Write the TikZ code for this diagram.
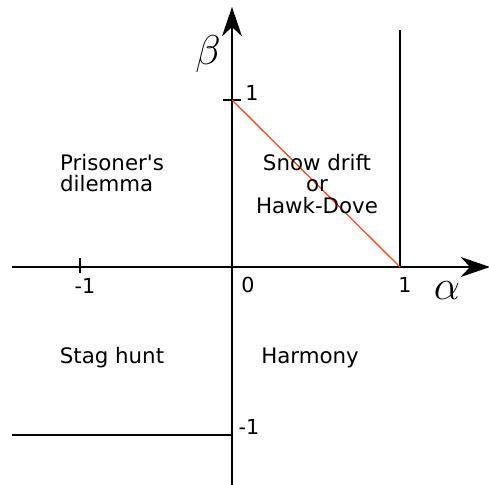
\RequirePackage{fix-cm}
\documentclass[tikz,border=0pt]{standalone}
\usepackage{fontspec}
\setmainfont{DejaVu Sans}[Ligatures=TeXOff]
\usetikzlibrary{arrows.meta,positioning}
\definecolor{axisblack}{HTML}{000000}
\definecolor{diagred}{HTML}{FF4A1C}

\begin{document}
\begin{tikzpicture}[
    x=0.75pt, y=-0.75pt,
    axis/.style={line width=1.4pt, color=axisblack},
    axisarrow/.style={axis, -{Stealth[length=22pt, width=15pt, inset=7pt]}},
    border/.style={line width=1.4pt, color=axisblack},
    diag/.style={line width=1pt, color=diagred},
    ticklabel/.style={font=\fontsize{15.5}{18}\selectfont, inner sep=1pt},
    region/.style={font=\fontsize{16}{16}\selectfont, inner sep=0pt},
    greek/.style={font=\fontsize{24}{28}\selectfont, scale=1.3, transform shape, inner sep=0pt},
]
\useasboundingbox (0,0) rectangle (489,485);

% --- Axes ---
\coordinate (xstart) at (12,267);
\coordinate (xend) at (490,267);
\coordinate (ystart) at (232,485);
\coordinate (yend) at (232,7);
\coordinate (origin) at (232,267);
\draw[axisarrow] (xstart) -- (xend);
\draw[axisarrow] (ystart) -- (yend);
\node[greek] (alpha) at (447,291) {$\alpha$};
\node[greek] (beta) at (208,54) {$\beta$};

% --- Ticks ---
\coordinate (ytickl) at (223,100);
\coordinate (ytickr) at (241,100);
\coordinate (xtickt) at (80,258);
\coordinate (xtickb) at (80,273);
\draw[axis] (ytickl) -- (ytickr);
\draw[axis] (xtickt) -- (xtickb);
\node[ticklabel] (yone) at (252,93) {1};
\node[ticklabel] (xmone) at (85,286) {-1};
\node[ticklabel] (zero) at (248,285) {0};
\node[ticklabel] (xone) at (405,285) {1};
\node[ticklabel] (ymone) at (249,427) {-1};

% --- Region borders ---
\coordinate (bordertop) at (400,30);
\coordinate (borderbot) at (400,267);
\coordinate (stagl) at (12,435);
\coordinate (stagr) at (232,435);
\draw[border] (bordertop) -- (borderbot);
\draw[border] (stagl) -- (stagr);
\coordinate (diagtop) at (232,100);
\draw[diag] (diagtop) -- (borderbot);

% --- Regions ---
\node[region, align=left] (pd) at (112,173) {Prisoner's\\dilemma};
\node[region, align=center] (snow) at (317,184) {Snow drift\\or\\Hawk-Dove};
\node[region] (stag) at (112,358) {Stag hunt};
\node[region] (harm) at (310,358) {Harmony};

\end{tikzpicture}
\end{document}
